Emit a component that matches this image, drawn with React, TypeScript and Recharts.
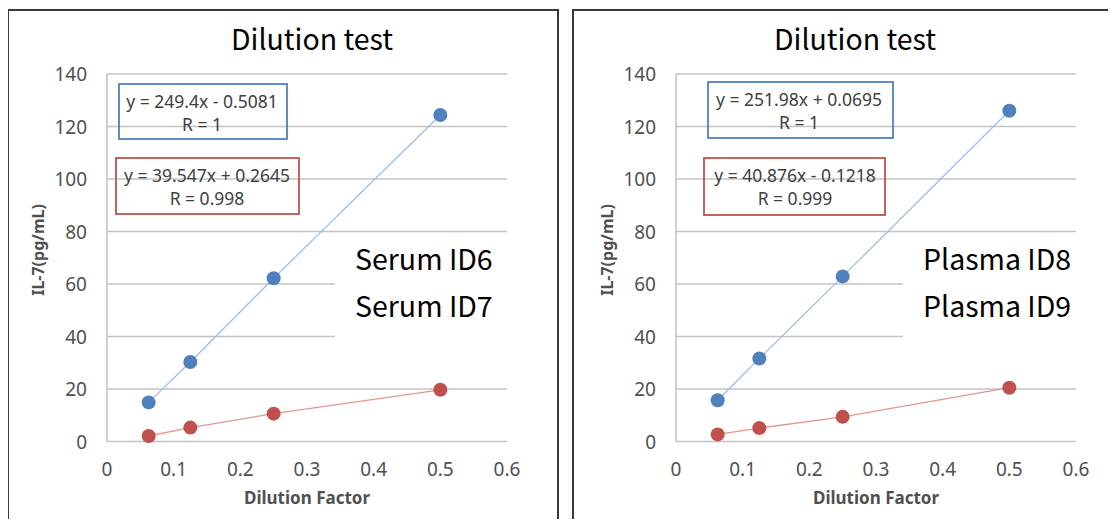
import React from "react";
import {
  ScatterChart,
  Scatter,
  XAxis,
  YAxis,
  CartesianGrid,
  ReferenceArea,
} from "recharts";

// dilution factors shared by all samples
const DILUTION = [0.0625, 0.125, 0.25, 0.5];

// IL-7 (pg/mL)
const SERUM_ID6 = [14.9, 30.3, 62.2, 124.4];
const SERUM_ID7 = [2.1, 5.3, 10.6, 19.7];
const PLASMA_ID8 = [15.7, 31.6, 62.9, 126.0];
const PLASMA_ID9 = [2.7, 5.1, 9.4, 20.5];

const X_TICKS = [0, 0.1, 0.2, 0.3, 0.4, 0.5, 0.6];
const Y_TICKS = [0, 20, 40, 60, 80, 100, 120, 140];

const SERUM_EQ_BLUE = ["y = 249.4x - 0.5081", "R = 1"];
const SERUM_EQ_RED = ["y = 39.547x + 0.2645", "R = 0.998"];
const PLASMA_EQ_BLUE = ["y = 251.98x + 0.0695", "R = 1"];
const PLASMA_EQ_RED = ["y = 40.876x - 0.1218", "R = 0.999"];

const SERUM_NAMES = ["Serum ID6", "Serum ID7"];
const PLASMA_NAMES = ["Plasma ID8", "Plasma ID9"];

const toPoints = (ys: number[]) => DILUTION.map((x, i) => ({ x, y: ys[i] }));

const BLUE = "#4F81BD";
const RED = "#C0504D";
const BLUE_LINE = "#9DBFE3";
const RED_LINE = "#E39594";
const GRID = "#C3C3C3";
const AXIS_TEXT = "#505050";
const FONT = "'Noto Sans', sans-serif";
const JP_FONT = "'Noto Sans CJK JP', 'Noto Sans', sans-serif";

const dot = (fill: string) => (props: any) =>
  <circle cx={props.cx} cy={props.cy} r={7} fill={fill} />;

const xTick = (props: any) => (
  <text
    x={props.x}
    y={props.y}
    dy={13}
    textAnchor="middle"
    fontSize={19}
    fontFamily={FONT}
    fill={AXIS_TEXT}
  >
    {props.payload.value}
  </text>
);

const yTick = (props: any) => (
  <text
    x={props.x}
    y={props.y}
    dy={7}
    textAnchor="end"
    fontSize={19}
    fontFamily={FONT}
    fill={AXIS_TEXT}
  >
    {props.payload.value}
  </text>
);

interface Box {
  x: number;
  y: number;
  w: number;
  h: number;
  cx: number;
  lines: string[];
  color: string;
}

interface PanelProps {
  chartLeft: number;
  chartWidth: number;
  plotLeft: number;
  blue: number[];
  red: number[];
  boxes: Box[];
  titleX: number;
  yLabelX: number;
  names: string[];
  namesX: number;
  coverX: number;
}

function Panel({
  chartLeft,
  chartWidth,
  plotLeft,
  blue,
  red,
  boxes,
  titleX,
  yLabelX,
  names,
  namesX,
  coverX,
}: PanelProps) {
  const yAxisW = 60;
  const plotW = 400;
  const top = 74;
  const bottom = 441.5;
  const height = 527;
  return (
    <>
      <div style={{ position: "absolute", left: chartLeft, top: 0 }}>
        <ScatterChart
          width={chartWidth}
          height={height}
          margin={{
            top,
            left: plotLeft - chartLeft - yAxisW,
            right: chartWidth - (plotLeft - chartLeft) - plotW,
            bottom: height - bottom - 30,
          }}
        >
          <CartesianGrid vertical={false} stroke={GRID} strokeWidth={1.6} />
          <XAxis
            type="number"
            dataKey="x"
            domain={[0, 0.6]}
            ticks={X_TICKS}
            height={30}
            axisLine={false}
            tickLine={false}
            tickMargin={15}
            tick={xTick}
          />
          <YAxis
            type="number"
            dataKey="y"
            domain={[0, 140]}
            ticks={Y_TICKS}
            width={yAxisW}
            axisLine={{ stroke: GRID, strokeWidth: 1.6 }}
            tickLine={false}
            tickMargin={14}
            tick={yTick}
          />
          <ReferenceArea
            x1={((coverX - plotLeft) / plotW) * 0.6}
            x2={0.6}
            y1={33}
            y2={77}
            fill="#ffffff"
            fillOpacity={1}
            stroke="none"
          />
          <Scatter
            data={toPoints(blue)}
            line={{ stroke: BLUE_LINE, strokeWidth: 1.3 }}
            lineType="joint"
            shape={dot(BLUE)}
            isAnimationActive={false}
          />
          <Scatter
            data={toPoints(red)}
            line={{ stroke: RED_LINE, strokeWidth: 1.3 }}
            lineType="joint"
            shape={dot(RED)}
            isAnimationActive={false}
          />
        </ScatterChart>
      </div>
      <svg
        width={1116}
        height={527}
        style={{ position: "absolute", left: 0, top: 0, pointerEvents: "none" }}
      >
        <text
          x={titleX}
          y={50}
          textAnchor="middle"
          fontSize={28.5}
          fontFamily={JP_FONT}
          fill="#000"
        >
          Dilution test
        </text>
        <text
          transform={`translate(${yLabelX},250) rotate(-90)`}
          textAnchor="middle"
          dominantBaseline="central"
          fontSize={16}
          fontWeight="bold"
          fontFamily={FONT}
          fill={AXIS_TEXT}
        >
          IL-7(pg/mL)
        </text>
        <text
          x={plotLeft + plotW / 2}
          y={504}
          textAnchor="middle"
          fontSize={17}
          fontWeight="bold"
          fontFamily={FONT}
          fill={AXIS_TEXT}
        >
          Dilution Factor
        </text>
        {boxes.map((b, i) => (
          <g key={i}>
            <rect
              x={b.x}
              y={b.y}
              width={b.w}
              height={b.h}
              fill="none"
              stroke={b.color}
              strokeWidth={1.8}
            />
            {b.lines.map((t, j) => (
              <text
                key={j}
                x={b.cx}
                y={b.y + 24 + j * 23}
                textAnchor="middle"
                fontSize={17.5}
                fontFamily={FONT}
                fill="#404040"
              >
                {t}
              </text>
            ))}
          </g>
        ))}
        {names.map((n, i) => (
          <text
            key={n}
            x={namesX}
            y={270 + i * 47}
            fontSize={28.5}
            fontFamily={JP_FONT}
            fill="#000"
          >
            {n}
          </text>
        ))}
      </svg>
    </>
  );
}

export default function App() {
  return (
    <div
      style={{
        position: "relative",
        width: 1116,
        height: 527,
        margin: -8,
        overflow: "hidden",
        background: "#fff",
      }}
    >
      <div
        style={{
          position: "absolute",
          left: 7,
          top: 9,
          width: 548,
          height: 600,
          border: "2px solid #3a3a3a",
        }}
      />
      <div
        style={{
          position: "absolute",
          left: 572,
          top: 9,
          width: 600,
          height: 600,
          border: "2px solid #3a3a3a",
        }}
      />
      <Panel
        chartLeft={0}
        chartWidth={556}
        plotLeft={107}
        blue={SERUM_ID6}
        red={SERUM_ID7}
        titleX={312}
        yLabelX={38}
        names={SERUM_NAMES}
        namesX={355}
        coverX={335}
        boxes={[
          { x: 119, y: 84, w: 168, h: 55, cx: 202, lines: SERUM_EQ_BLUE, color: BLUE },
          { x: 116, y: 158, w: 183, h: 56, cx: 207, lines: SERUM_EQ_RED, color: RED },
        ]}
      />
      <Panel
        chartLeft={568}
        chartWidth={548}
        plotLeft={676}
        blue={PLASMA_ID8}
        red={PLASMA_ID9}
        titleX={855}
        yLabelX={607}
        names={PLASMA_NAMES}
        namesX={923}
        coverX={903}
        boxes={[
          { x: 708, y: 82, w: 185, h: 56, cx: 799, lines: PLASMA_EQ_BLUE, color: BLUE },
          { x: 704, y: 158, w: 181, h: 57, cx: 795, lines: PLASMA_EQ_RED, color: RED },
        ]}
      />
    </div>
  );
}
